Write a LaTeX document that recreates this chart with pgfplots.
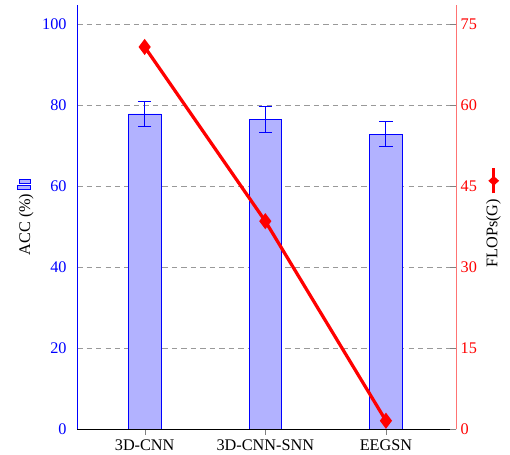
\documentclass[border=0pt]{standalone}
\usepackage{pgfplots}
\pgfplotsset{compat=1.18}
\usepackage{fontspec}
\setmainfont{Liberation Serif}

\newcommand{\barimg}{\tikz[baseline=0pt]{
  \draw[blue,fill=blue!30] (0,0) rectangle (3pt,0.8em);
  \draw[blue,fill=blue!30] (4.5pt,0) rectangle (7.5pt,0.7em);}}
\newcommand{\lineimg}{\tikz[baseline=-0.5ex]{
  \draw[red,line width=2.4pt] (0,0) -- (6.5mm,0);
  \fill[red] (3.25mm,4pt) -- (3.25mm+3.6pt,0) -- (3.25mm,-4pt) -- (3.25mm-3.6pt,0) -- cycle;}}

\pgfplotsset{
	/pgf/number format/assume math mode=true,
	every axis/.append style={font=\large},
}

\begin{document}
\begin{tikzpicture}
	\begin{axis} [
		scale only axis,
		width=280pt, height=313pt,
		xmin=-0.56, xmax=2.58,
		ymin=0, ymax=104.7,
		axis y line*=left,
		axis x line*=bottom,
		y axis line style={draw=blue},
		x axis line style={draw=black},
		tick align=outside,
		xtick={0,1,2},
		xticklabels={3D-CNN,3D-CNN-SNN,EEGSN},
		ytick={0,20,40,60,80,100},
		yticklabel style={blue},
		major x tick style={gray},
		major y tick style={draw=none},
		ymajorgrids,
		major grid style={dash pattern=on 4pt off 3pt, gray!80},
		ylabel={ACC (\%) \barimg},
		ylabel style={yshift=-0.5pt},
		after end axis/.code={
			\path (rel axis cs:0,1) ++(-57pt,4pt);
			\path (rel axis cs:1,0) ++(40pt,0pt);
		},
	]
		\addplot[ybar, bar width=24pt, draw=blue, fill=blue!30,
			error bars/.cd, y dir=both, y explicit,
			error bar style={blue, thick},
			error mark options={blue, thick, mark size=5pt, rotate=90}]
			coordinates {
			(0, 77.9) +- (0, 3.1)
			(1, 76.5) +- (0, 3.2)
			(2, 72.9) +- (0, 3.0)
		};
	\end{axis}
	\begin{axis} [
		scale only axis,
		width=280pt, height=313pt,
		xmin=-0.56, xmax=2.58,
		ymin=0, ymax=78.5,
		axis y line*=right,
		axis x line=none,
		y axis line style={draw=red!55},
		ytick={0,15,30,45,60,75},
		yticklabel style={red},
		major y tick style={gray},
		ylabel={FLOPs(G) \lineimg},
		ylabel style={yshift=0pt},
	]
		\addplot[red, line width=2.4pt, mark=diamond*, mark size=4pt]
			coordinates {
			(0, 70.8)
			(1, 38.5)
			(2, 1.5)
		};
	\end{axis}
\end{tikzpicture}
\end{document}
